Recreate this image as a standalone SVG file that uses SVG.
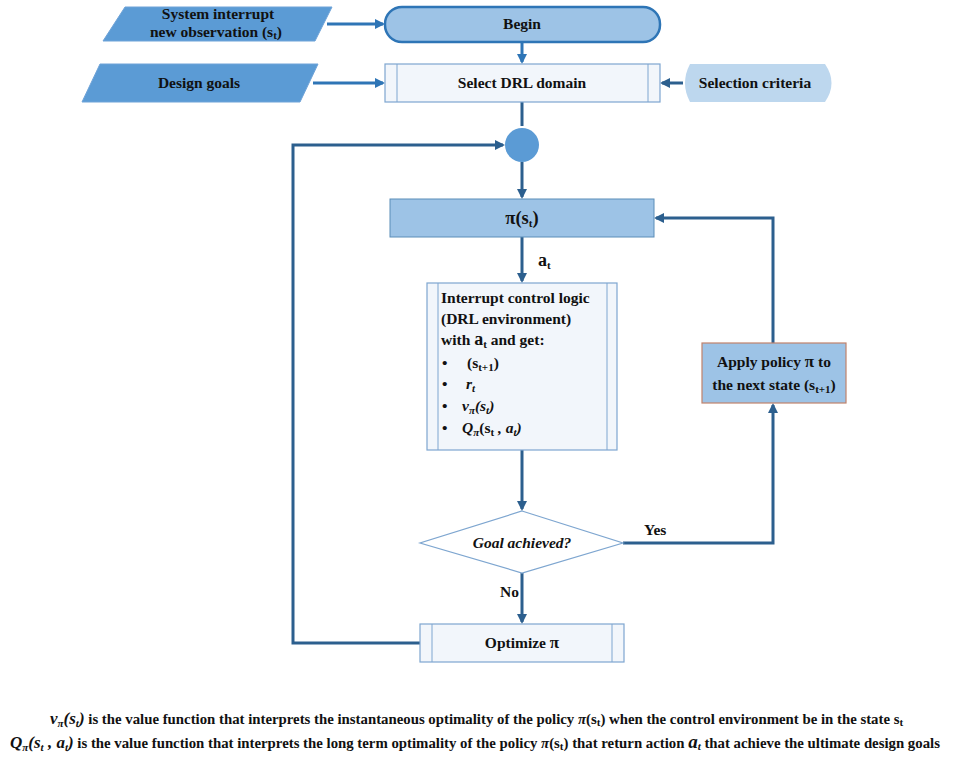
<svg xmlns="http://www.w3.org/2000/svg" width="961" height="762" viewBox="0 0 961 762">
<defs>
<style>
text{font-family:"Liberation Serif","Times New Roman",serif;font-weight:bold;fill:#111;}
.c{text-anchor:middle;}
.lbl{font-size:15.5px;}
.it{font-style:italic;}
.sub{font-size:11px;}
.conn{fill:none;stroke-width:3;}
.c1{stroke:#2E75B6;}
.c2{stroke:#2C5F8E;}
.para{fill:#5B9BD5;stroke:#6FA3D8;stroke-width:1;}
.sub-box{fill:#F2F6FB;stroke:#7EA6D0;stroke-width:1.2;}
.blue-box{fill:#9DC3E6;stroke:#5B8DB8;stroke-width:1;}
</style>
<marker id="a1" markerWidth="10" markerHeight="10" refX="8" refY="5" orient="auto" markerUnits="userSpaceOnUse"><path d="M0,0 L10,5 L0,10 z" fill="#2E75B6"/></marker>
<marker id="a2" markerWidth="10" markerHeight="10" refX="8" refY="5" orient="auto" markerUnits="userSpaceOnUse"><path d="M0,0 L10,5 L0,10 z" fill="#2C5F8E"/></marker>
</defs>
<rect width="961" height="762" fill="#fff"/>

<g id="connectors">
<path class="conn c1" d="M327,24 H383" marker-end="url(#a1)"/>
<path class="conn c1" d="M313,83 H383" marker-end="url(#a1)"/>
<path class="conn c1" d="M522,42 V62" marker-end="url(#a1)"/>
<path class="conn c2" d="M683,83 H662" marker-end="url(#a2)"/>
<path class="conn c2" d="M522,102 V126"/>
<path class="conn c2" d="M522,162 V197" marker-end="url(#a2)"/>
<path class="conn c2" d="M522,237 V281" marker-end="url(#a2)"/>
<path class="conn c2" d="M522,450 V509" marker-end="url(#a2)"/>
<path class="conn c2" d="M522,573 V622" marker-end="url(#a2)"/>
<path class="conn c2" d="M623,543 H773 V405" marker-end="url(#a2)"/>
<path class="conn c2" d="M773,343 V218 H656" marker-end="url(#a2)"/>
<path class="conn c2" d="M420,643 H293 V145 H503" marker-end="url(#a2)"/>
<text class="lbl" x="538" y="266" style="font-size:18px">a<tspan class="sub" dy="3">t</tspan></text>
<text class="lbl" x="644" y="535">Yes</text>
<text class="lbl" x="500" y="597">No</text>
</g>

<g id="sys-interrupt">
<polygon class="para" points="125,7 332,7 315,41 103,41"/>
<text class="lbl c" x="218" y="19">System interrupt</text>
<text class="lbl c" x="216" y="37">new observation (s<tspan class="sub" dy="2">t</tspan><tspan dy="-2">)</tspan></text>
</g>

<g id="design-goals">
<polygon class="para" points="100,64 318,64 300,102 82,102"/>
<text class="lbl c" x="199" y="88">Design goals</text>
</g>

<g id="begin">
<rect x="385" y="7" width="275" height="35" rx="17" ry="17" fill="#9DC3E6" stroke="#2E75B6" stroke-width="2.5"/>
<text class="lbl c" x="522" y="29">Begin</text>
</g>

<g id="select-drl">
<rect class="sub-box" x="385" y="64" width="275" height="38"/>
<line x1="397" y1="64" x2="397" y2="102" stroke="#7EA6D0" stroke-width="1"/>
<line x1="648" y1="64" x2="648" y2="102" stroke="#7EA6D0" stroke-width="1"/>
<text class="lbl c" x="522" y="88">Select DRL domain</text>
</g>

<g id="selection-criteria">
<path d="M690,64 H825 Q838,83 825,102 H690 Q680,83 690,64 z" fill="#BDD7EE"/>
<text class="lbl c" x="755" y="88">Selection criteria</text>
</g>

<g id="junction">
<circle cx="522" cy="145" r="17" fill="#5B9BD5"/>
</g>

<g id="policy">
<rect class="blue-box" x="390" y="199" width="264" height="38"/>
<text class="lbl c" x="522" y="224" style="font-size:18.5px">π(s<tspan class="sub" dy="3">t</tspan><tspan dy="-3">)</tspan></text>
</g>

<g id="interrupt-logic">
<rect class="sub-box" x="427" y="283" width="190" height="167"/>
<line x1="438" y1="283" x2="438" y2="450" stroke="#7EA6D0" stroke-width="1"/>
<line x1="607" y1="283" x2="607" y2="450" stroke="#7EA6D0" stroke-width="1"/>
<text class="lbl" x="441" y="303">Interrupt control logic</text>
<text class="lbl" x="441" y="324">(DRL environment)</text>
<text class="lbl" x="441" y="345">with  <tspan font-size="18">a</tspan><tspan class="sub" dy="3">t</tspan><tspan dy="-3"> and get:</tspan></text>
<text class="lbl" x="442" y="368">•</text>
<text class="lbl" x="467" y="368">(s<tspan class="sub" dy="3">t+1</tspan><tspan dy="-3">)</tspan></text>
<text class="lbl" x="442" y="389">•</text>
<text class="lbl it" x="466" y="389">r<tspan class="sub" dy="3">t</tspan></text>
<text class="lbl" x="442" y="411">•</text>
<text class="lbl it" x="462" y="411">v<tspan class="sub" dy="3">π</tspan><tspan dy="-3">(s</tspan><tspan class="sub" dy="3">t</tspan><tspan dy="-3">)</tspan></text>
<text class="lbl" x="442" y="433">•</text>
<text class="lbl it" x="462" y="433">Q<tspan class="sub" dy="3">π</tspan><tspan dy="-3" font-style="normal">(s</tspan><tspan class="sub" dy="3" font-style="normal">t</tspan><tspan dy="-3"> , a</tspan><tspan class="sub" dy="3">t</tspan><tspan dy="-3">)</tspan></text>
</g>

<g id="goal-achieved">
<polygon points="522,511 623,543 522,573 420,543" fill="#fff" stroke="#7EA6D0" stroke-width="1.2"/>
<text class="lbl c it" x="522" y="548">Goal achieved?</text>
</g>

<g id="apply-policy">
<rect x="702" y="343" width="144" height="60" fill="#9DC3E6" stroke="#C0826C" stroke-width="1.2"/>
<text class="lbl c" x="774" y="367">Apply policy <tspan font-size="17">π</tspan> to</text>
<text class="lbl c" x="774" y="390">the next state (s<tspan class="sub" dy="3">t+1</tspan><tspan dy="-3">)</tspan></text>
</g>

<g id="optimize">
<rect class="sub-box" x="420" y="624" width="204" height="38"/>
<line x1="432" y1="624" x2="432" y2="662" stroke="#7EA6D0" stroke-width="1"/>
<line x1="612" y1="624" x2="612" y2="662" stroke="#7EA6D0" stroke-width="1"/>
<text class="lbl c" x="522" y="648">Optimize <tspan font-size="17">π</tspan></text>
</g>

<g id="footer">
<text font-size="14.8" x="50" y="724"><tspan class="it" font-size="17">v</tspan><tspan class="it sub" dy="3">π</tspan><tspan class="it" font-size="17" dy="-3">(s</tspan><tspan class="it sub" dy="3">t</tspan><tspan class="it" font-size="17" dy="-3">)</tspan> is the value function that interprets the instantaneous optimality of the policy <tspan class="it">π</tspan>(s<tspan class="sub" dy="2">t</tspan><tspan dy="-2">) when the control environment be in the state s</tspan><tspan class="sub" dy="2">t</tspan></text>
<text font-size="14.8" x="10" y="748"><tspan class="it" font-size="17">Q</tspan><tspan class="it sub" dy="3">π</tspan><tspan class="it" font-size="17" dy="-3">(s</tspan><tspan class="it sub" dy="3">t</tspan><tspan class="it" font-size="17" dy="-3"> , a</tspan><tspan class="it sub" dy="3">t</tspan><tspan class="it" font-size="17" dy="-3">)</tspan> is the value function that interprets the long term optimality of the policy <tspan class="it">π</tspan>(s<tspan class="sub" dy="2">t</tspan><tspan dy="-2">) that return action </tspan><tspan class="it" font-size="19">a</tspan><tspan class="it sub" dy="2">t</tspan><tspan dy="-2">  that achieve the ultimate design goals</tspan></text>
</g>
</svg>
